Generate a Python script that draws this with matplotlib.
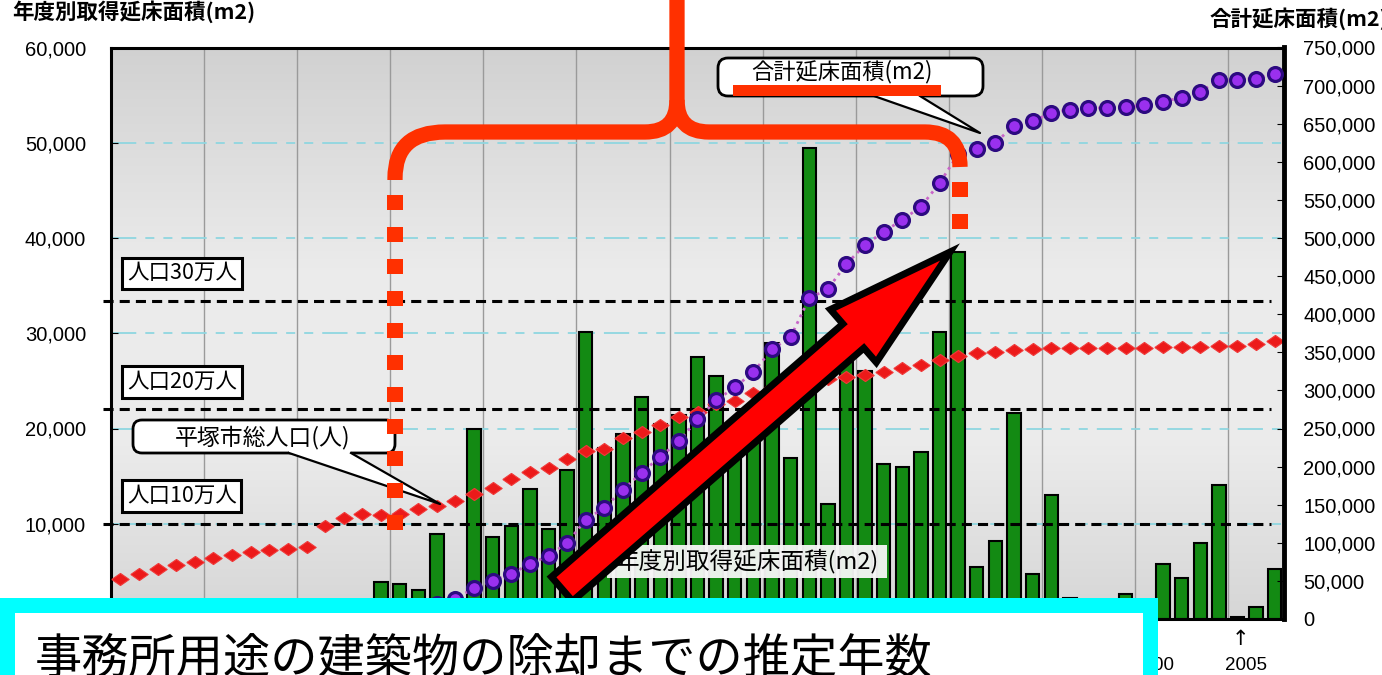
import numpy as np
import matplotlib
matplotlib.use("Agg")
import matplotlib.pyplot as plt
from matplotlib.path import Path
from matplotlib.patches import PathPatch, Rectangle, FancyBboxPatch, Polygon, FancyArrow
from matplotlib.colors import LinearSegmentedColormap
from matplotlib.ticker import FuncFormatter

JP = ["Noto Sans CJK JP", "DejaVu Sans"]
NUM = ["Liberation Sans", "DejaVu Sans"]

years = list(range(1945, 2008))

# 年度別取得延床面積 (m2)
floor_area = [
    0, 0, 0, 0, 0, 0, 0, 0, 0, 0,                                          # 1945-1954
    0, 0, 0, 0, 3900, 3700, 3000, 8900, 600, 19900,                        # 1955-1964
    8600, 9800, 13600, 9500, 15600, 30100, 18000, 19400, 23300, 20500,     # 1965-1974
    21400, 27500, 25500, 17000, 20000, 29000, 16900, 49500, 12100, 31000,  # 1975-1984
    26000, 16300, 16000, 17500, 30100, 38500, 5500, 8200, 21600, 4700,     # 1985-1994
    13000, 2200, 1000, 900, 2600, 1500, 5800, 4300, 8000, 14100,           # 1995-2004
    200, 1300, 5200,                                                       # 2005-2007
]

# 合計延床面積 (m2), from 1959
total_years = list(range(1959, 2008))
total_area = [
    3900, 7600, 10600, 19500, 26300, 40800,                                          # 1959-1964
    50000, 59200, 72400, 82900, 100000, 130300, 146000, 169800, 192000, 213000,      # 1965-1974
    233000, 262000, 287000, 304000, 324000, 354000, 370000, 421000, 433000, 466000,  # 1975-1984
    491000, 508000, 524000, 541000, 572000, 610000, 617000, 625000, 647500, 653000,  # 1985-1994
    664600, 668500, 670000, 671000, 672500, 674000, 679000, 684300, 692000, 706700,  # 1995-2004
    708000, 709300, 714600,                                                          # 2005-2007
]

# 平塚市総人口, drawn on the left scale
population = [
    4200, 4700, 5300, 5700, 6000, 6400, 6700, 7000, 7200, 7300,
    7600, 9800, 10600, 11000, 10900, 11000, 11500, 11900, 12400, 13100,
    13800, 14700, 15400, 15900, 16800, 17600, 17900, 19000, 19600, 20400,
    21200, 21700, 22600, 22900, 23700, 24200, 24600, 24900, 25200, 25400,
    25600, 25900, 26400, 26700, 27200, 27600, 27900, 28000, 28200, 28300,
    28400, 28400, 28400, 28400, 28500, 28500, 28600, 28600, 28600, 28700,
    28700, 28900, 29200,
]

pop_levels = ["人口10万人", "人口20万人", "人口30万人"]
pop_level_y = [10000, 22000, 33400]

# only the last two year labels clear the caption box
year_labels = [2000, 2005]

W, H = 1382, 675
fig = plt.figure(figsize=(W / 100, H / 100), dpi=100)
fig.patch.set_facecolor("white")

ax = fig.add_axes([111 / W, 1 - 619 / H, (1284 - 111) / W, (619 - 47.5) / H])
x = np.arange(len(years))
ax.set_xlim(-0.5, len(years) - 0.5)
ax.set_ylim(0, 60000)

# grey gradient plot background
grad = LinearSegmentedColormap.from_list(
    "bg", [(0, "#d6d6d6"), (0.3, "#ebebeb"), (0.6, "#ececec"), (1, "#d1d1d1")])
ax.imshow(np.linspace(0, 1, 256).reshape(-1, 1), cmap=grad, aspect="auto",
          extent=[-0.5, len(years) - 0.5, 0, 60000], origin="lower", zorder=0)

for gx in np.arange(4.5, len(years) - 1, 5):
    ax.axvline(gx, color="#9a9a9a", lw=1, zorder=1)
for gy in range(10000, 60000, 10000):
    ax.axhline(gy, color="#8fd6e0", lw=1.3, dashes=(14, 5, 5, 5, 5, 5), zorder=1)

ax.bar(x, floor_area, width=0.72, color="#138a13", edgecolor="black", linewidth=1.5, zorder=2)

for lvl in pop_level_y:
    ax.plot([-0.95, 61.8], [lvl, lvl], color="black", lw=2.2,
            linestyle=(0, (3.3, 2)), zorder=3, clip_on=False)

diamond = [(-1, 0), (0, 0.7), (1, 0), (0, -0.7), (-1, 0)]
ax.plot(x, population, linestyle="none", marker=diamond, markersize=12.5,
        color="#ec1a1a", markeredgecolor="#f03a3a", markeredgewidth=0.8, zorder=4)

for label, lvl in zip(pop_levels, pop_level_y):
    ax.text(0.36, lvl + 2900, label, family=JP, fontsize=15.5, va="center", ha="left",
            zorder=5, bbox=dict(boxstyle="square,pad=0.22", fc="white", ec="black", lw=2.2))

ax.yaxis.set_major_formatter(FuncFormatter(lambda v, p: f"{v:,.0f}"))
ax.set_yticks(range(0, 60001, 10000))
ax.tick_params(axis="y", direction="in", length=5, pad=18, labelsize=14.5)
for t in ax.get_yticklabels():
    t.set_family(NUM)

idx = {y: i for i, y in enumerate(years)}
ax.set_xticks([idx[y] + 0.45 for y in year_labels])
ax.set_xticklabels([str(y) for y in year_labels], family=NUM, fontsize=13.5)
ax.tick_params(axis="x", length=0, pad=27)
ax.annotate("↑", xy=(idx[2005] + 0.15, 0), xycoords=("data", "axes fraction"),
            xytext=(0, -7), textcoords="offset points", ha="center", va="top",
            family=["DejaVu Sans"], fontsize=15)

for s in ax.spines.values():
    s.set_linewidth(2.2)
    s.set_color("black")

ax2 = ax.twinx()
ax2.set_ylim(0, 750000)
ax2.set_yticks(range(0, 750001, 50000))
ax2.yaxis.set_major_formatter(FuncFormatter(lambda v, p: f"{v:,.0f}"))
ax2.tick_params(axis="y", direction="in", length=5, pad=14, labelsize=14.5)
for t in ax2.get_yticklabels():
    t.set_family(NUM)
ax2.spines["right"].set_linewidth(3.5)
for side in ("left", "top", "bottom"):
    ax2.spines[side].set_visible(False)

tx = [idx[y] for y in total_years]
ax2.plot(tx, total_area, color="#c864c8", lw=2, linestyle=":", zorder=3)
ax2.plot(tx, total_area, linestyle="none", marker="o", markersize=10,
         markerfacecolor="#9a30ee", markeredgecolor="#2c0a80", markeredgewidth=2.3, zorder=4)

fig.text(12 / W, 1 - 12 / H, "年度別取得延床面積(m2)", family=JP, fontsize=15.5,
         fontweight="bold", va="center", ha="left")
fig.text(1210 / W, 1 - 19 / H, "合計延床面積(m2)", family=JP, fontsize=15.5,
         fontweight="bold", va="center", ha="left")

# annotation layer in pixel units
ov = fig.add_axes([0, 0, 1, 1])
ov.set_xlim(0, W)
ov.set_ylim(H, 0)
ov.axis("off")
ov.patch.set_visible(False)

# callout: 平塚市総人口
ov.add_patch(FancyBboxPatch((133, 420), 262, 33, boxstyle="round,pad=0,rounding_size=9",
                            fc="white", ec="black", lw=2, zorder=5))
ov.add_patch(Polygon([(289, 449), (351, 449), (351, 453), (440, 504), (289, 453)],
                     closed=True, fc="white", ec="none", zorder=6))
ov.plot([289, 440, 351], [453, 504, 453], color="black", lw=1.6, zorder=6)
ov.text(263, 437, "平塚市総人口(人)", family=JP, fontsize=16.5, ha="center", va="center", zorder=7)

# callout: 合計延床面積
ov.add_patch(FancyBboxPatch((718, 58), 265, 38, boxstyle="round,pad=0,rounding_size=10",
                            fc="white", ec="black", lw=2, zorder=5))
ov.add_patch(Polygon([(874, 92), (920, 92), (920, 96), (980, 133), (874, 96)],
                     closed=True, fc="white", ec="none", zorder=6))
ov.plot([874, 980, 920], [96, 133, 96], color="black", lw=1.6, zorder=6)
ov.text(842, 72, "合計延床面積(m2)", family=JP, fontsize=16, ha="center", va="center", zorder=7)
ov.add_patch(Rectangle((733, 85), 208, 11, fc="#ff3000", ec="none", zorder=8))

# label for the bars
ov.add_patch(Rectangle((607, 545), 280, 33, fc="#f7f7f7", ec="none", alpha=0.95, zorder=5))
ov.text(748, 561, "年度別取得延床面積(m2)", family=JP, fontsize=17, ha="center", va="center", zorder=6)

# red bracket over the growth period
red = "#ff3000"
M, L, C = Path.MOVETO, Path.LINETO, Path.CURVE3
left_arm = Path([(395, 180), (395, 178), (395, 132), (445, 132), (645, 132), (677, 132), (677, 100), (677, -10)],
                [M, L, C, C, L, C, C, L])
right_arm = Path([(677, 100), (677, 132), (709, 132), (925, 132), (960, 132), (960, 167)],
                 [M, C, C, L, C, C])
for p in (left_arm, right_arm):
    ov.add_patch(PathPatch(p, fill=False, ec=red, lw=11, capstyle="butt", joinstyle="round", zorder=9))
for k in range(11):
    ov.add_patch(Rectangle((387, 195 + 32 * k), 16, 15, fc=red, ec="none", zorder=9))
for yy in (182, 214):
    ov.add_patch(Rectangle((952, yy), 16, 15, fc=red, ec="none", zorder=9))

# big arrow
ov.add_patch(FancyArrow(562, 589, 388, -337, width=32, head_width=70, head_length=128,
                        length_includes_head=True, fc="#ff0000", ec="black", lw=5,
                        joinstyle="miter", zorder=10))

# caption box
ov.add_patch(Rectangle((0, 598), 1158, 100, fc="#00ffff", ec="none", zorder=11))
ov.add_patch(Rectangle((15, 613), 1128, 100, fc="white", ec="none", zorder=12))
ov.text(35, 673, "事務所用途の建築物の除却までの推定年数", family=JP, fontsize=34,
        ha="left", va="baseline", zorder=13)

fig.savefig("out.png", dpi=100)
